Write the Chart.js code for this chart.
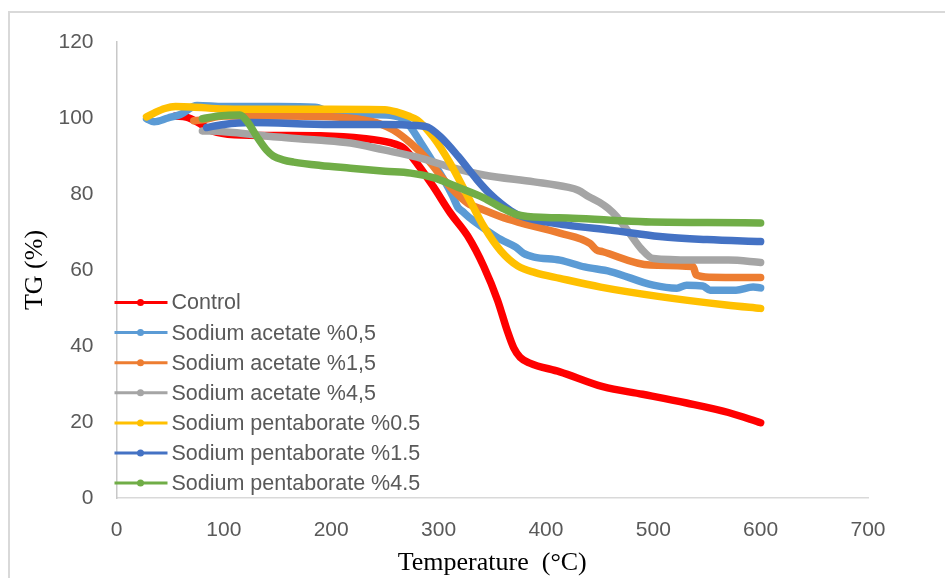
<!DOCTYPE html>
<html>
<head>
<meta charset="utf-8">
<script src="https://cdn.jsdelivr.net/npm/chart.js@4.4.0/dist/chart.umd.min.js"></script>
<style>
  html, body { margin: 0; padding: 0; background: #fff; }
  canvas { display: block; }
</style>
</head>
<body>
<canvas id="tg" width="945" height="578"></canvas>
<script>
// series labels + colours (Excel default palette)
const seriesNames = ['Control', 'Sodium acetate %0,5', 'Sodium acetate %1,5', 'Sodium acetate %4,5',
  'Sodium pentaborate %0.5', 'Sodium pentaborate %1.5', 'Sodium pentaborate %4.5'];
const seriesColors = ['#ff0000', '#5b9bd5', '#ed7d31', '#a5a5a5', '#ffc000', '#4472c4', '#70ad47'];

// temperature (°C) / TG (%)
const controlT = [55, 65, 75, 90, 110, 150, 190, 230, 255, 267, 280, 295, 311, 327, 342, 355, 364, 370, 376, 385, 413, 453, 490, 531, 570, 600];
const controlTG = [100.5, 100.2, 99, 96.5, 95.6, 95.4, 95.3, 94.6, 93.5, 92.2, 88, 82, 75, 69, 61, 52, 44, 39.5, 37, 35.5, 33.2, 29.3, 27.3, 25, 22.5, 19.8];

const acetate05T = [28, 35, 48, 60, 75, 100, 150, 185, 200, 230, 255, 265, 271, 283, 292, 305, 313, 318, 322, 330, 342, 358, 372, 379, 389, 413, 436, 460, 500, 522, 531, 546, 553, 577, 593, 600];
const acetate05TG = [99.8, 99, 100, 101, 103.3, 103, 103, 102.8, 101.5, 101, 100.7, 100, 98.7, 93.7, 89.7, 83.7, 79.5, 76.5, 75.5, 73.5, 71, 68, 66, 64.4, 63.4, 62.6, 60.8, 59.6, 56, 55.2, 56, 55.8, 54.7, 54.7, 55.5, 55.3];

const acetate15T = [72, 80, 100, 150, 200, 230, 245, 258, 274, 290, 305, 311, 327, 342, 358, 374, 413, 441, 447, 453, 497, 537, 540, 553, 600];
const acetate15TG = [99.3, 99.5, 100.5, 100.5, 100.3, 99.5, 98.5, 96.8, 93.4, 89, 83.7, 81.8, 77.6, 75.8, 74, 72.6, 69.7, 67, 65.3, 64.8, 61.3, 60.9, 58.7, 58.1, 58];

const acetate45T = [80, 100, 150, 187, 218, 249, 280, 311, 342, 389, 420, 430, 440, 450, 458, 466, 477, 489, 500, 537, 570, 600];
const acetate45TG = [96.6, 96.4, 95, 94.2, 93.4, 91.6, 89.7, 87.1, 85, 83.2, 81.8, 81, 79.3, 77.8, 76.2, 74, 70, 65.5, 63, 62.6, 62.6, 62];

const borate05T = [28, 35, 45, 55, 70, 100, 150, 200, 250, 262, 272, 280, 295, 311, 327, 342, 358, 374, 390, 413, 451, 506, 568, 600];
const borate05TG = [100.3, 101.3, 102.5, 103, 102.9, 102.4, 102.3, 102.3, 102.2, 101.5, 100.5, 99.5, 95, 88, 79.5, 71.5, 65, 61, 59.3, 57.8, 55.5, 53, 50.8, 49.9];

const borate15T = [84, 100, 125, 200, 250, 280, 290, 302, 318, 336, 348, 358, 366, 374, 420, 460, 506, 550, 600];
const borate15TG = [97.5, 98.3, 98.8, 98.3, 98.3, 98, 97.6, 95, 90, 83.7, 80, 77.5, 75.8, 74.5, 71.8, 70.5, 68.8, 68, 67.5];

const borate45T = [80, 95, 115, 122, 131, 140, 146, 155, 165, 190, 218, 250, 274, 295, 318, 342, 358, 374, 400, 420, 460, 498, 550, 600];
const borate45TG = [99.8, 100.5, 100.8, 99, 95, 91.5, 90, 89, 88.4, 87.5, 86.8, 86, 85.5, 84.3, 81.8, 79, 76.5, 74.5, 73.8, 73.7, 73.1, 72.6, 72.5, 72.4];

const allT = [controlT, acetate05T, acetate15T, acetate45T, borate05T, borate15T, borate45T];
const allTG = [controlTG, acetate05TG, acetate15TG, acetate45TG, borate05TG, borate15TG, borate45TG];

const pairs = (t, v) => t.map((x, i) => ({ x: x, y: v[i] }));

const tickFont = { family: '"Liberation Sans", Arial, sans-serif', size: 21 };
const titleFont = { family: '"Liberation Serif", "Times New Roman", serif', size: 26, lineHeight: 1 };

// grey frame around the whole chart
const frame = {
  id: 'frame',
  beforeDraw(chart) {
    const ctx = chart.ctx;
    ctx.save();
    ctx.fillStyle = '#fff';
    ctx.fillRect(0, 0, chart.width, chart.height);
    ctx.strokeStyle = '#d9d9d9';
    ctx.lineWidth = 2;
    ctx.strokeRect(9, 12, chart.width + 20, chart.height + 20);
    ctx.restore();
  }
};

// legend sits inside the plot, bottom left, like the Excel one
const insideLegend = {
  id: 'insideLegend',
  afterDatasetsDraw(chart) {
    const ctx = chart.ctx;
    const left = chart.chartArea.left;
    const top = chart.chartArea.top;
    ctx.save();
    ctx.font = '21.5px "Liberation Sans", Arial, sans-serif';
    ctx.textBaseline = 'middle';
    chart.data.datasets.forEach((ds, i) => {
      const y = top + 260.5 + i * 30.1;
      ctx.strokeStyle = ds.borderColor;
      ctx.lineWidth = 3;
      ctx.beginPath();
      ctx.moveTo(left - 2, y);
      ctx.lineTo(left + 51, y);
      ctx.stroke();
      ctx.fillStyle = ds.borderColor;
      ctx.beginPath();
      ctx.arc(left + 24, y, 3.5, 0, Math.PI * 2);
      ctx.fill();
      ctx.fillStyle = '#595959';
      ctx.fillText(ds.label, left + 55, y + 1);
    });
    ctx.restore();
  }
};

const datasets = seriesNames.map((name, i) => ({
  label: name,
  data: pairs(allT[i], allTG[i]),
  borderColor: seriesColors[i],
  backgroundColor: seriesColors[i],
  order: seriesNames.length - i   // later series on top, as in Excel
}));

new Chart(document.getElementById('tg'), {
  type: 'line',
  data: { datasets: datasets },
  options: {
    responsive: false,
    animation: false,
    layout: { padding: { left: 22, top: 42, right: 77, bottom: 0 } },
    plugins: { legend: { display: false }, tooltip: { enabled: false } },
    elements: {
      point: { radius: 0 },
      line: { borderWidth: 7.5, cubicInterpolationMode: 'monotone', borderCapStyle: 'round', borderJoinStyle: 'round' }
    },
    scales: {
      x: {
        type: 'linear', min: 0, max: 700,
        ticks: { stepSize: 100, padding: 20, color: '#595959', font: tickFont },
        grid: { display: false, drawTicks: false },
        border: { display: true, color: '#d9d9d9', width: 1.5 },
        title: { display: true, text: 'Temperature  (°C)', color: '#000', font: titleFont, padding: { top: 0, bottom: 2 } },
        afterFit: s => { s.height = 80; }
      },
      y: {
        min: 0, max: 120,
        ticks: { stepSize: 20, padding: 23, color: '#595959', font: tickFont },
        grid: { display: false, drawTicks: false },
        border: { display: true, color: '#c8c8c8', width: 1.5 },
        title: { display: true, text: 'TG (%)', color: '#000', font: titleFont, padding: { top: 0, bottom: 0 } },
        afterFit: s => { s.width = 94.5; }
      }
    }
  },
  plugins: [frame, insideLegend]
});
</script>
</body>
</html>
